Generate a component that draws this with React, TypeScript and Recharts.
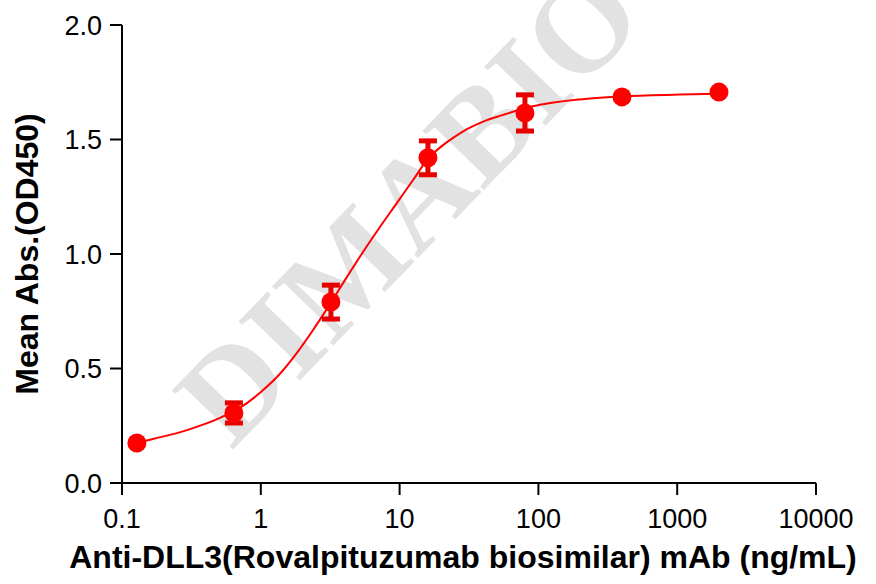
import React from 'react';
import { ComposedChart, Line, Scatter, ErrorBar, XAxis, YAxis } from 'recharts';

// measured points (ng/mL, OD450 mean, SD)
const conc = [0.128, 0.64, 3.2, 16, 80, 400, 2000];
const meanAbs = [0.175, 0.306, 0.79, 1.42, 1.616, 1.686, 1.707];
const sd = [0, 0.044, 0.074, 0.074, 0.079, 0, 0];

// fitted curve
const fitX = [0.128, 0.167, 0.294, 0.508, 0.795, 1.04, 1.37, 1.82, 2.38, 2.81, 4.18, 5.45, 7.22, 9.57, 12.5, 16, 20, 24, 30.6, 40, 52.8, 91.4, 199, 400, 1047, 1970];
const fitY = [0.175, 0.192, 0.231, 0.284, 0.349, 0.406, 0.476, 0.568, 0.668, 0.734, 0.9, 1.009, 1.118, 1.223, 1.323, 1.415, 1.47, 1.505, 1.545, 1.578, 1.603, 1.645, 1.675, 1.688, 1.696, 1.7];

const xTicks = [0.1, 1, 10, 100, 1000, 10000];
const yTicks = [0, 0.5, 1.0, 1.5, 2.0];

const points = conc.map((x, i) => ({ x, y: meanAbs[i], err: sd[i] }));
const curve = fitX.map((x, i) => ({ x, y: fitY[i] }));

const FONT = 'Arial, "Liberation Sans", sans-serif';
const RED = '#ff0000';

const Dot = (props: any) => <circle cx={props.cx} cy={props.cy} r={9.5} fill={RED} />;

export default function App() {
  return (
    <div style={{ position: 'absolute', left: 0, top: 0, width: 876, height: 584, background: '#fff' }}>
      <svg width={876} height={584} style={{ position: 'absolute', left: 0, top: 0 }}>
        <text
          x={408}
          y={205}
          transform="rotate(-46 408 205)"
          textAnchor="middle"
          dominantBaseline="central"
          fontFamily='"Liberation Serif", "Times New Roman", serif'
          fontWeight="bold"
          fontSize={130}
          fill="#e2e2e2"
        >
          DIMABIO
        </text>
      </svg>
      <div style={{ position: 'absolute', left: 0, top: 0 }}>
        <ComposedChart width={876} height={584} margin={{ top: 25, right: 60, left: 0, bottom: 0 }}>
          <XAxis
            type="number"
            dataKey="x"
            scale="log"
            domain={[0.1, 10000]}
            ticks={xTicks}
            allowDataOverflow
            height={101}
            tickSize={12}
            tickMargin={14}
            axisLine={{ stroke: '#000', strokeWidth: 2 }}
            tickLine={{ stroke: '#000', strokeWidth: 2 }}
            tick={{ fontSize: 27, fill: '#000', fontFamily: FONT }}
            tickFormatter={(v) => String(v)}
            label={{
              value: 'Anti-DLL3(Rovalpituzumab biosimilar) mAb (ng/mL)',
              position: 'insideBottom',
              offset: 16,
              dx: -6,
              style: { fontSize: 32, fontWeight: 'bold', fill: '#000', fontFamily: FONT },
            }}
          />
          <YAxis
            type="number"
            dataKey="y"
            domain={[0, 2]}
            ticks={yTicks}
            width={122}
            tickSize={12}
            tickMargin={8}
            axisLine={{ stroke: '#000', strokeWidth: 2 }}
            tickLine={{ stroke: '#000', strokeWidth: 2 }}
            tick={{ fontSize: 27, fill: '#000', fontFamily: FONT }}
            tickFormatter={(v) => Number(v).toFixed(1)}
            label={{
              value: 'Mean Abs.(OD450)',
              angle: -90,
              position: 'insideLeft',
              offset: 27,
              style: { fontSize: 32, fontWeight: 'bold', fill: '#000', fontFamily: FONT, textAnchor: 'middle' },
            }}
          />
          <Line
            data={curve}
            dataKey="y"
            type="monotone"
            stroke={RED}
            strokeWidth={2}
            dot={false}
            activeDot={false}
            isAnimationActive={false}
          />
          <Scatter data={points} dataKey="y" fill={RED} shape={Dot} isAnimationActive={false}>
            <ErrorBar dataKey="err" direction="y" width={9} strokeWidth={5} stroke="#e60000" />
          </Scatter>
        </ComposedChart>
      </div>
    </div>
  );
}
